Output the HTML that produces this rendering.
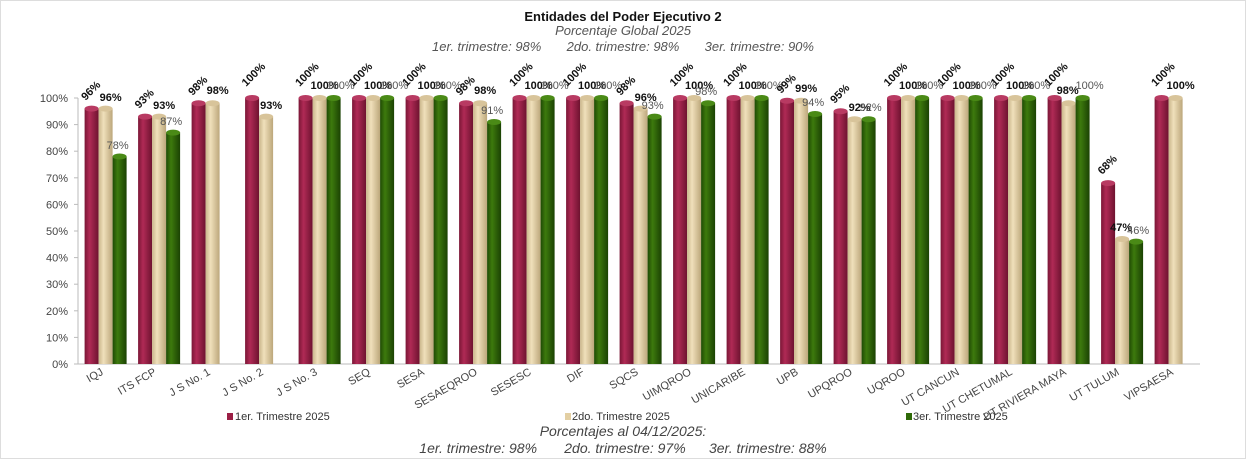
<!DOCTYPE html>
<html><head><meta charset="utf-8"><style>
html,body{margin:0;padding:0;background:#fff;}
svg{display:block;font-family:"Liberation Sans",sans-serif;}
.rl{font-size:11px;font-weight:bold;fill:#111;}
.tl{font-size:11px;font-weight:bold;fill:#111;text-anchor:middle;}
.gl{font-size:11px;fill:#555;text-anchor:middle;}
.yt{font-size:11px;fill:#444;text-anchor:end;}
.xl{font-size:11px;fill:#444;text-anchor:end;}
</style></head><body>
<svg width="1246" height="459" viewBox="0 0 1246 459">
<defs>
<linearGradient id="r" x1="0" x2="1"><stop offset="0" stop-color="#7a1636"/><stop offset=".35" stop-color="#b02a55"/><stop offset="1" stop-color="#6e1230"/></linearGradient>
<linearGradient id="t" x1="0" x2="1"><stop offset="0" stop-color="#c9b58a"/><stop offset=".35" stop-color="#f0e0bb"/><stop offset="1" stop-color="#bca77b"/></linearGradient>
<linearGradient id="g" x1="0" x2="1"><stop offset="0" stop-color="#1f4a04"/><stop offset=".35" stop-color="#3d7a0d"/><stop offset="1" stop-color="#1b4203"/></linearGradient>
</defs>
<rect x="0.5" y="0.5" width="1245" height="458" fill="none" stroke="#ddd"/>
<text x="623" y="21" text-anchor="middle" font-size="13" font-weight="bold" fill="#111">Entidades del Poder Ejecutivo 2</text>
<text x="623" y="35" text-anchor="middle" font-size="13" font-style="italic" fill="#555">Porcentaje Global  2025</text>
<text x="623" y="51" text-anchor="middle" font-size="13" font-style="italic" fill="#555" xml:space="preserve">1er. trimestre: 98%       2do. trimestre: 98%       3er. trimestre: 90%</text>
<!-- y axis -->
<g stroke="#bbb"><line x1="78" y1="98" x2="78" y2="364"/><line x1="78" y1="364" x2="1200" y2="364"/>
<line x1="74" y1="364" x2="78" y2="364"/><line x1="74" y1="337.4" x2="78" y2="337.4"/><line x1="74" y1="310.8" x2="78" y2="310.8"/><line x1="74" y1="284.2" x2="78" y2="284.2"/><line x1="74" y1="257.6" x2="78" y2="257.6"/><line x1="74" y1="231" x2="78" y2="231"/><line x1="74" y1="204.4" x2="78" y2="204.4"/><line x1="74" y1="177.8" x2="78" y2="177.8"/><line x1="74" y1="151.2" x2="78" y2="151.2"/><line x1="74" y1="124.6" x2="78" y2="124.6"/><line x1="74" y1="98" x2="78" y2="98"/></g>
<g class="yt"><text x="68" y="368">0%</text><text x="68" y="341.4">10%</text><text x="68" y="314.8">20%</text><text x="68" y="288.2">30%</text><text x="68" y="261.6">40%</text><text x="68" y="235">50%</text><text x="68" y="208.4">60%</text><text x="68" y="181.8">70%</text><text x="68" y="155.2">80%</text><text x="68" y="128.6">90%</text><text x="68" y="102">100%</text></g>

<!-- bars: red x -20, tan -6, green 8 -->
<g transform="translate(104.6,0)"><rect x="-20" y="108.6" width="14" height="255.4" fill="url(#r)"/><ellipse cx="-13" cy="108.6" rx="7" ry="3" fill="#b83a62"/><rect x="-6" y="108.6" width="14" height="255.4" fill="url(#t)"/><ellipse cx="1" cy="108.6" rx="7" ry="3" fill="#d8c49a"/><rect x="8" y="156.5" width="14" height="207.5" fill="url(#g)"/><ellipse cx="15" cy="156.5" rx="7" ry="3" fill="#4a8a16"/>
<text class="rl" transform="translate(-19,101) rotate(-45)">96%</text><text class="tl" x="6" y="101">96%</text><text class="gl" x="13" y="149">78%</text></g>
<g transform="translate(158.1,0)"><rect x="-20" y="116.6" width="14" height="247.4" fill="url(#r)"/><ellipse cx="-13" cy="116.6" rx="7" ry="3" fill="#b83a62"/><rect x="-6" y="116.6" width="14" height="247.4" fill="url(#t)"/><ellipse cx="1" cy="116.6" rx="7" ry="3" fill="#d8c49a"/><rect x="8" y="132.6" width="14" height="231.4" fill="url(#g)"/><ellipse cx="15" cy="132.6" rx="7" ry="3" fill="#4a8a16"/>
<text class="rl" transform="translate(-19,109) rotate(-45)">93%</text><text class="tl" x="6" y="109">93%</text><text class="gl" x="13" y="125">87%</text></g>
<g transform="translate(211.6,0)"><rect x="-20" y="103.3" width="14" height="260.7" fill="url(#r)"/><ellipse cx="-13" cy="103.3" rx="7" ry="3" fill="#b83a62"/><rect x="-6" y="103.3" width="14" height="260.7" fill="url(#t)"/><ellipse cx="1" cy="103.3" rx="7" ry="3" fill="#d8c49a"/>
<text class="rl" transform="translate(-19,96) rotate(-45)">98%</text><text class="tl" x="6" y="94">98%</text></g>
<g transform="translate(265.1,0)"><rect x="-20" y="98" width="14" height="266" fill="url(#r)"/><ellipse cx="-13" cy="98" rx="7" ry="3" fill="#b83a62"/><rect x="-6" y="116.6" width="14" height="247.4" fill="url(#t)"/><ellipse cx="1" cy="116.6" rx="7" ry="3" fill="#d8c49a"/>
<text class="rl" transform="translate(-19,87) rotate(-45)">100%</text><text class="tl" x="6" y="109">93%</text></g>
<g transform="translate(318.6,0)"><rect x="-20" y="98" width="14" height="266" fill="url(#r)"/><ellipse cx="-13" cy="98" rx="7" ry="3" fill="#b83a62"/><rect x="-6" y="98" width="14" height="266" fill="url(#t)"/><ellipse cx="1" cy="98" rx="7" ry="3" fill="#d8c49a"/><rect x="8" y="98" width="14" height="266" fill="url(#g)"/><ellipse cx="15" cy="98" rx="7" ry="3" fill="#4a8a16"/>
<text class="rl" transform="translate(-19,87) rotate(-45)">100%</text><text class="tl" x="6" y="89">100%</text><text class="gl" x="22" y="89">100%</text></g>
<g transform="translate(372.1,0)"><rect x="-20" y="98" width="14" height="266" fill="url(#r)"/><ellipse cx="-13" cy="98" rx="7" ry="3" fill="#b83a62"/><rect x="-6" y="98" width="14" height="266" fill="url(#t)"/><ellipse cx="1" cy="98" rx="7" ry="3" fill="#d8c49a"/><rect x="8" y="98" width="14" height="266" fill="url(#g)"/><ellipse cx="15" cy="98" rx="7" ry="3" fill="#4a8a16"/>
<text class="rl" transform="translate(-19,87) rotate(-45)">100%</text><text class="tl" x="6" y="89">100%</text><text class="gl" x="22" y="89">100%</text></g>
<g transform="translate(425.6,0)"><rect x="-20" y="98" width="14" height="266" fill="url(#r)"/><ellipse cx="-13" cy="98" rx="7" ry="3" fill="#b83a62"/><rect x="-6" y="98" width="14" height="266" fill="url(#t)"/><ellipse cx="1" cy="98" rx="7" ry="3" fill="#d8c49a"/><rect x="8" y="98" width="14" height="266" fill="url(#g)"/><ellipse cx="15" cy="98" rx="7" ry="3" fill="#4a8a16"/>
<text class="rl" transform="translate(-19,87) rotate(-45)">100%</text><text class="tl" x="6" y="89">100%</text><text class="gl" x="22" y="89">100%</text></g>
<g transform="translate(479.1,0)"><rect x="-20" y="103.3" width="14" height="260.7" fill="url(#r)"/><ellipse cx="-13" cy="103.3" rx="7" ry="3" fill="#b83a62"/><rect x="-6" y="103.3" width="14" height="260.7" fill="url(#t)"/><ellipse cx="1" cy="103.3" rx="7" ry="3" fill="#d8c49a"/><rect x="8" y="122" width="14" height="242" fill="url(#g)"/><ellipse cx="15" cy="122" rx="7" ry="3" fill="#4a8a16"/>
<text class="rl" transform="translate(-19,96) rotate(-45)">98%</text><text class="tl" x="6" y="94">98%</text><text class="gl" x="13" y="114">91%</text></g>
<g transform="translate(532.6,0)"><rect x="-20" y="98" width="14" height="266" fill="url(#r)"/><ellipse cx="-13" cy="98" rx="7" ry="3" fill="#b83a62"/><rect x="-6" y="98" width="14" height="266" fill="url(#t)"/><ellipse cx="1" cy="98" rx="7" ry="3" fill="#d8c49a"/><rect x="8" y="98" width="14" height="266" fill="url(#g)"/><ellipse cx="15" cy="98" rx="7" ry="3" fill="#4a8a16"/>
<text class="rl" transform="translate(-19,87) rotate(-45)">100%</text><text class="tl" x="6" y="89">100%</text><text class="gl" x="22" y="89">100%</text></g>
<g transform="translate(586.1,0)"><rect x="-20" y="98" width="14" height="266" fill="url(#r)"/><ellipse cx="-13" cy="98" rx="7" ry="3" fill="#b83a62"/><rect x="-6" y="98" width="14" height="266" fill="url(#t)"/><ellipse cx="1" cy="98" rx="7" ry="3" fill="#d8c49a"/><rect x="8" y="98" width="14" height="266" fill="url(#g)"/><ellipse cx="15" cy="98" rx="7" ry="3" fill="#4a8a16"/>
<text class="rl" transform="translate(-19,87) rotate(-45)">100%</text><text class="tl" x="6" y="89">100%</text><text class="gl" x="22" y="89">100%</text></g>
<g transform="translate(639.6,0)"><rect x="-20" y="103.3" width="14" height="260.7" fill="url(#r)"/><ellipse cx="-13" cy="103.3" rx="7" ry="3" fill="#b83a62"/><rect x="-6" y="108.6" width="14" height="255.4" fill="url(#t)"/><ellipse cx="1" cy="108.6" rx="7" ry="3" fill="#d8c49a"/><rect x="8" y="116.6" width="14" height="247.4" fill="url(#g)"/><ellipse cx="15" cy="116.6" rx="7" ry="3" fill="#4a8a16"/>
<text class="rl" transform="translate(-19,96) rotate(-45)">98%</text><text class="tl" x="6" y="101">96%</text><text class="gl" x="13" y="109">93%</text></g>
<g transform="translate(693.1,0)"><rect x="-20" y="98" width="14" height="266" fill="url(#r)"/><ellipse cx="-13" cy="98" rx="7" ry="3" fill="#b83a62"/><rect x="-6" y="98" width="14" height="266" fill="url(#t)"/><ellipse cx="1" cy="98" rx="7" ry="3" fill="#d8c49a"/><rect x="8" y="103.3" width="14" height="260.7" fill="url(#g)"/><ellipse cx="15" cy="103.3" rx="7" ry="3" fill="#4a8a16"/>
<text class="rl" transform="translate(-19,87) rotate(-45)">100%</text><text class="tl" x="6" y="89">100%</text><text class="gl" x="13" y="95">98%</text></g>
<g transform="translate(746.6,0)"><rect x="-20" y="98" width="14" height="266" fill="url(#r)"/><ellipse cx="-13" cy="98" rx="7" ry="3" fill="#b83a62"/><rect x="-6" y="98" width="14" height="266" fill="url(#t)"/><ellipse cx="1" cy="98" rx="7" ry="3" fill="#d8c49a"/><rect x="8" y="98" width="14" height="266" fill="url(#g)"/><ellipse cx="15" cy="98" rx="7" ry="3" fill="#4a8a16"/>
<text class="rl" transform="translate(-19,87) rotate(-45)">100%</text><text class="tl" x="6" y="89">100%</text><text class="gl" x="22" y="89">100%</text></g>
<g transform="translate(800.1,0)"><rect x="-20" y="100.7" width="14" height="263.3" fill="url(#r)"/><ellipse cx="-13" cy="100.7" rx="7" ry="3" fill="#b83a62"/><rect x="-6" y="100.7" width="14" height="263.3" fill="url(#t)"/><ellipse cx="1" cy="100.7" rx="7" ry="3" fill="#d8c49a"/><rect x="8" y="114" width="14" height="250" fill="url(#g)"/><ellipse cx="15" cy="114" rx="7" ry="3" fill="#4a8a16"/>
<text class="rl" transform="translate(-19,94) rotate(-45)">99%</text><text class="tl" x="6" y="92">99%</text><text class="gl" x="13" y="106">94%</text></g>
<g transform="translate(853.6,0)"><rect x="-20" y="111.3" width="14" height="252.7" fill="url(#r)"/><ellipse cx="-13" cy="111.3" rx="7" ry="3" fill="#b83a62"/><rect x="-6" y="119.3" width="14" height="244.7" fill="url(#t)"/><ellipse cx="1" cy="119.3" rx="7" ry="3" fill="#d8c49a"/><rect x="8" y="119.3" width="14" height="244.7" fill="url(#g)"/><ellipse cx="15" cy="119.3" rx="7" ry="3" fill="#4a8a16"/>
<text class="rl" transform="translate(-19,104) rotate(-45)">95%</text><text class="tl" x="6" y="111">92%</text><text class="gl" x="17" y="111">92%</text></g>
<g transform="translate(907.1,0)"><rect x="-20" y="98" width="14" height="266" fill="url(#r)"/><ellipse cx="-13" cy="98" rx="7" ry="3" fill="#b83a62"/><rect x="-6" y="98" width="14" height="266" fill="url(#t)"/><ellipse cx="1" cy="98" rx="7" ry="3" fill="#d8c49a"/><rect x="8" y="98" width="14" height="266" fill="url(#g)"/><ellipse cx="15" cy="98" rx="7" ry="3" fill="#4a8a16"/>
<text class="rl" transform="translate(-19,87) rotate(-45)">100%</text><text class="tl" x="6" y="89">100%</text><text class="gl" x="22" y="89">100%</text></g>
<g transform="translate(960.6,0)"><rect x="-20" y="98" width="14" height="266" fill="url(#r)"/><ellipse cx="-13" cy="98" rx="7" ry="3" fill="#b83a62"/><rect x="-6" y="98" width="14" height="266" fill="url(#t)"/><ellipse cx="1" cy="98" rx="7" ry="3" fill="#d8c49a"/><rect x="8" y="98" width="14" height="266" fill="url(#g)"/><ellipse cx="15" cy="98" rx="7" ry="3" fill="#4a8a16"/>
<text class="rl" transform="translate(-19,87) rotate(-45)">100%</text><text class="tl" x="6" y="89">100%</text><text class="gl" x="22" y="89">100%</text></g>
<g transform="translate(1014.1,0)"><rect x="-20" y="98" width="14" height="266" fill="url(#r)"/><ellipse cx="-13" cy="98" rx="7" ry="3" fill="#b83a62"/><rect x="-6" y="98" width="14" height="266" fill="url(#t)"/><ellipse cx="1" cy="98" rx="7" ry="3" fill="#d8c49a"/><rect x="8" y="98" width="14" height="266" fill="url(#g)"/><ellipse cx="15" cy="98" rx="7" ry="3" fill="#4a8a16"/>
<text class="rl" transform="translate(-19,87) rotate(-45)">100%</text><text class="tl" x="6" y="89">100%</text><text class="gl" x="22" y="89">100%</text></g>
<g transform="translate(1067.6,0)"><rect x="-20" y="98" width="14" height="266" fill="url(#r)"/><ellipse cx="-13" cy="98" rx="7" ry="3" fill="#b83a62"/><rect x="-6" y="103.3" width="14" height="260.7" fill="url(#t)"/><ellipse cx="1" cy="103.3" rx="7" ry="3" fill="#d8c49a"/><rect x="8" y="98" width="14" height="266" fill="url(#g)"/><ellipse cx="15" cy="98" rx="7" ry="3" fill="#4a8a16"/>
<text class="rl" transform="translate(-19,87) rotate(-45)">100%</text><text class="tl" x="0" y="94">98%</text><text class="gl" x="22" y="89">100%</text></g>
<g transform="translate(1121.1,0)"><rect x="-20" y="183.1" width="14" height="180.9" fill="url(#r)"/><ellipse cx="-13" cy="183.1" rx="7" ry="3" fill="#b83a62"/><rect x="-6" y="239" width="14" height="125" fill="url(#t)"/><ellipse cx="1" cy="239" rx="7" ry="3" fill="#d8c49a"/><rect x="8" y="241.6" width="14" height="122.4" fill="url(#g)"/><ellipse cx="15" cy="241.6" rx="7" ry="3" fill="#4a8a16"/>
<text class="rl" transform="translate(-19,175) rotate(-45)">68%</text><text class="tl" x="0" y="231">47%</text><text class="gl" x="17" y="234">46%</text></g>
<g transform="translate(1174.6,0)"><rect x="-20" y="98" width="14" height="266" fill="url(#r)"/><ellipse cx="-13" cy="98" rx="7" ry="3" fill="#b83a62"/><rect x="-6" y="98" width="14" height="266" fill="url(#t)"/><ellipse cx="1" cy="98" rx="7" ry="3" fill="#d8c49a"/>
<text class="rl" transform="translate(-19,87) rotate(-45)">100%</text><text class="tl" x="6" y="89">100%</text></g>

<!-- x labels -->
<g class="xl">
<text transform="translate(104,374) rotate(-30)">IQJ</text>
<text transform="translate(157,374) rotate(-30)">ITS FCP</text>
<text transform="translate(211,374) rotate(-30)">J S No. 1</text>
<text transform="translate(264,374) rotate(-30)">J S No. 2</text>
<text transform="translate(318,374) rotate(-30)">J S No. 3</text>
<text transform="translate(371,374) rotate(-30)">SEQ</text>
<text transform="translate(425,374) rotate(-30)">SESA</text>
<text transform="translate(478,374) rotate(-30)">SESAEQROO</text>
<text transform="translate(532,374) rotate(-30)">SESESC</text>
<text transform="translate(585,374) rotate(-30)">DIF</text>
<text transform="translate(639,374) rotate(-30)">SQCS</text>
<text transform="translate(692,374) rotate(-30)">UIMQROO</text>
<text transform="translate(746,374) rotate(-30)">UNICARIBE</text>
<text transform="translate(799,374) rotate(-30)">UPB</text>
<text transform="translate(853,374) rotate(-30)">UPQROO</text>
<text transform="translate(906,374) rotate(-30)">UQROO</text>
<text transform="translate(960,374) rotate(-30)">UT CANCUN</text>
<text transform="translate(1013,374) rotate(-30)">UT CHETUMAL</text>
<text transform="translate(1067,374) rotate(-30)">UT RIVIERA MAYA</text>
<text transform="translate(1120,374) rotate(-30)">UT TULUM</text>
<text transform="translate(1174,374) rotate(-30)">VIPSAESA</text>
</g>
<!-- legend -->
<rect x="227" y="413" width="6" height="7" fill="#9b1f45"/><text x="235" y="420" font-size="11" fill="#333">1er. Trimestre 2025</text>
<rect x="565" y="413" width="6" height="7" fill="#e3cfa3"/><text x="572" y="420" font-size="11" fill="#333">2do. Trimestre 2025</text>
<rect x="906" y="413" width="6" height="7" fill="#2f6a08"/><text x="913" y="420" font-size="11" fill="#333">3er. Trimestre 2025</text>
<text x="623" y="436" text-anchor="middle" font-size="14" font-style="italic" fill="#444">Porcentajes al 04/12/2025:</text>
<text x="623" y="453" text-anchor="middle" font-size="14" font-style="italic" fill="#444" xml:space="preserve">1er. trimestre: 98%       2do. trimestre: 97%      3er. trimestre: 88%</text>
</svg>
</body></html>
